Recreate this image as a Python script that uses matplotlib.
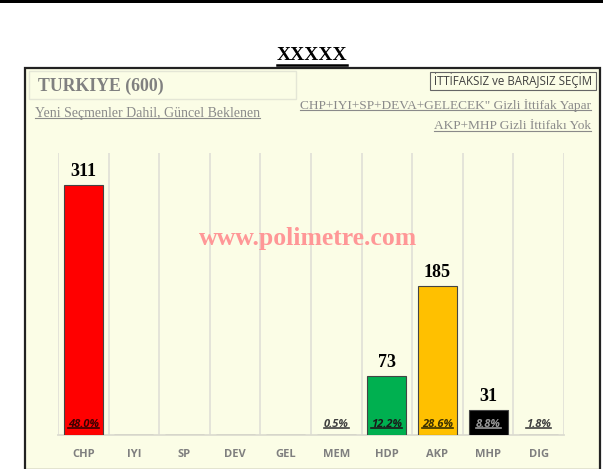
import matplotlib
matplotlib.use('Agg')
import matplotlib.pyplot as plt
from matplotlib.patches import Rectangle
from matplotlib.lines import Line2D

# data
parties = ['CHP', 'IYI', 'SP', 'DEV', 'GEL', 'MEM', 'HDP', 'AKP', 'MHP', 'DIG']
seats = [311, 0, 0, 0, 0, 0, 73, 185, 31, 0]
percents = ['48.0%', '', '', '', '', '0.5%', '12.2%', '28.6%', '8.8%', '1.8%']
colors = ['#ff0000', '#ffffff', '#ffffff', '#ffffff', '#ffffff', '#ffffff',
          '#00b050', '#ffc000', '#000000', '#ffffff']
pct_colors = ['#3a0000', '#333333', '#333333', '#333333', '#333333', '#404040',
              '#1a1a1a', '#3a3000', '#9a9a9a', '#404040']

W, H = 603, 469
bg = '#fbfde6'
serif = ['Liberation Serif', 'DejaVu Serif']
sans = ['Open Sans', 'DejaVu Sans']


def fx(px):
    return px / W


def fy(py):
    return 1 - py / H


fig = plt.figure(figsize=(W / 100, H / 100), dpi=100)
fig.patch.set_facecolor('white')

# top black band
fig.add_artist(Rectangle((0, fy(3)), 1, 3 / H, transform=fig.transFigure,
                         facecolor='black', edgecolor='none', zorder=-2))
# outer frame
fig.add_artist(Rectangle((fx(25), fy(470)), fx(575), 402 / H, transform=fig.transFigure,
                         facecolor=bg, edgecolor='#222222', lw=1.6, zorder=-2))
# header box
fig.add_artist(Rectangle((fx(29), fy(99)), fx(267), 28 / H, transform=fig.transFigure,
                         facecolor=bg, edgecolor='#e4e6d6', lw=1, zorder=-1))
# election-type box
fig.add_artist(Rectangle((fx(430), fy(90)), fx(166), 18 / H, transform=fig.transFigure,
                         facecolor=bg, edgecolor='#666666', lw=0.8, zorder=-1))

underlined = []

title = fig.text(fx(312), fy(55), 'XXXXX', ha='center', va='center', fontsize=14,
                 family=serif, weight='bold', color='black')
fig.text(fx(38), fy(86), 'TURKIYE (600)', ha='left', va='center', fontsize=12.8,
         family=serif, weight='bold', color='#808080')
t1 = fig.text(fx(35), fy(113), 'Yeni Seçmenler Dahil, Güncel Beklenen', ha='left',
              va='center', fontsize=10, family=serif, color='#8a8a8a')
t2 = fig.text(fx(591), fy(105), 'CHP+IYI+SP+DEVA+GELECEK" Gizli İttifak Yapar',
              ha='right', va='center', fontsize=9.6, family=serif, color='#8a8a8a')
t3 = fig.text(fx(591), fy(126), 'AKP+MHP Gizli İttifakı Yok', ha='right', va='center',
              fontsize=9.6, family=serif, color='#8a8a8a')
fig.text(fx(513), fy(81), 'İTTİFAKSIZ ve BARAJSIZ SEÇİM', ha='center', va='center',
         fontsize=8.3, family=sans, color='#404040')
underlined += [(t1, '#8a8a8a', 0.8), (t2, '#8a8a8a', 0.8), (t3, '#8a8a8a', 0.8)]

# chart
ax = fig.add_axes([fx(58), fy(435), fx(506), (435 - 153) / H])
ax.set_zorder(2)
ax.set_facecolor('none')
x = list(range(len(parties)))
ax.bar(x, seats, width=0.77, color=colors, edgecolor='#444444', linewidth=0.8, zorder=3)
ax.set_xlim(-0.5, len(parties) - 0.5)
ax.set_ylim(0, 351)
for b in range(len(parties) + 1):
    ax.axvline(b - 0.5, color='#e2e2d8', lw=1.3, zorder=1)
for s in ['top', 'left', 'right']:
    ax.spines[s].set_visible(False)
ax.spines['bottom'].set_color('#dcdcd0')
ax.spines['bottom'].set_linewidth(1.3)
ax.set_yticks([])
ax.set_xticks(x)
ax.set_xticklabels(parties, family=sans, fontsize=8, weight='bold', color='#7f7f7f')
ax.tick_params(axis='x', length=0, pad=10)

for i in x:
    if seats[i] > 0:
        ax.annotate(str(seats[i]), (i, seats[i]), xytext=(0, 4), textcoords='offset points',
                    ha='center', va='bottom', fontsize=13, weight='bold', family=serif,
                    color='black', zorder=4)
    if percents[i]:
        tp = ax.text(i, 13.5, percents[i], ha='center', va='center', fontsize=8,
                     style='italic', weight='bold', family=sans, color=pct_colors[i], zorder=4)
        underlined.append((tp, pct_colors[i], 1.2))

fig.text(fx(308), fy(238), 'www.polimetre.com', ha='center', va='center', fontsize=18.5,
         family=serif, weight='bold', color='#ff9797', zorder=10)

# underlines
fig.canvas.draw()
r = fig.canvas.get_renderer()
inv = fig.transFigure.inverted()
for t, c, lw in underlined:
    bb = t.get_window_extent(r)
    (x0, y0), (x1, _) = inv.transform([(bb.x0, bb.y0 + 1.5), (bb.x1, bb.y0)])
    fig.add_artist(Line2D([x0, x1], [y0, y0], transform=fig.transFigure, color=c, lw=lw, zorder=10))
bb = title.get_window_extent(r)
(x0, y0), (x1, _) = inv.transform([(bb.x0, bb.y0 - 2), (bb.x1, bb.y0)])
fig.add_artist(Line2D([x0, x1], [y0, y0], transform=fig.transFigure, color='black',
                      lw=1.8, zorder=10))

fig.savefig('out.png', dpi=100, facecolor='white')
